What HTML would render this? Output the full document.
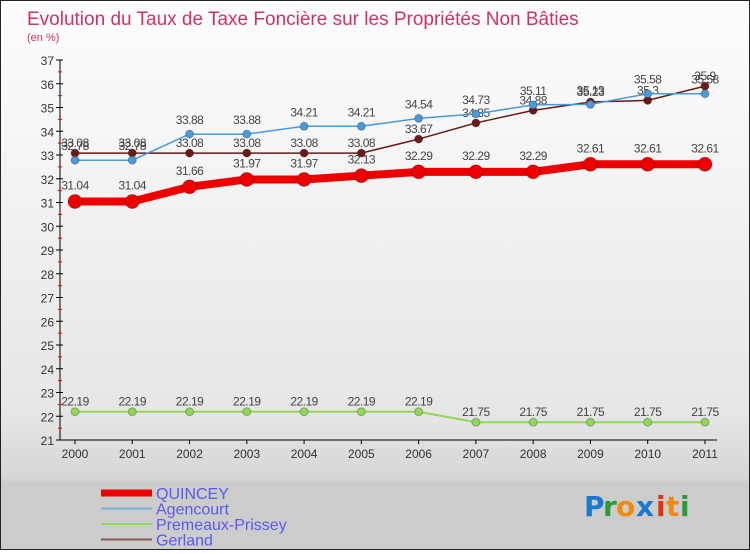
<!DOCTYPE html>
<html><head><meta charset="utf-8"><style>
body{margin:0;width:750px;height:550px;overflow:hidden;font-family:"Liberation Sans",sans-serif}
#wrap{position:relative;width:748px;height:548px;border:1px solid #222;background:linear-gradient(#fdfdfd,#e6e6e6 75%,#d6d6d6 87%,#cccccc 88%,#cccccc)}
</style></head><body>
<div id="wrap">
<svg id="c" width="748" height="548"></svg>
</div>
<script>
const years=[2000,2001,2002,2003,2004,2005,2006,2007,2008,2009,2010,2011];
const quincey=[31.04,31.04,31.66,31.97,31.97,32.13,32.29,32.29,32.29,32.61,32.61,32.61];
const agencourt=[32.78,32.78,33.88,33.88,34.21,34.21,34.54,34.73,35.11,35.13,35.58,35.58];
const premeaux=[22.19,22.19,22.19,22.19,22.19,22.19,22.19,21.75,21.75,21.75,21.75,21.75];
const gerland=[33.08,33.08,33.08,33.08,33.08,33.08,33.67,34.35,34.88,35.23,35.3,35.9];
const yTicks=[21,22,23,24,25,26,27,28,29,30,31,32,33,34,35,36,37];
const NS="http://www.w3.org/2000/svg";
const svg=document.getElementById('c');
function X(i){return 74+i*57.27;}
function Y(v){return 59+(37-v)*23.75;}
function el(t,a,p){const e=document.createElementNS(NS,t);for(const k in a)e.setAttribute(k,a[k]);(p||svg).appendChild(e);return e;}
function txt(x,y,s,a,p){const t=el('text',Object.assign({x:x,y:y},a||{}),p);t.textContent=s;return t;}
let t=txt(26,24,'Evolution du Taux de Taxe Foncière sur les Propriétés Non Bâties',{fill:'#d0306a','font-size':19});


t=txt(26,40,'(en %)',{fill:'#d0306a','font-size':11});


let ax=el('line',{x1:59,y1:Y(37),x2:59,y2:Y(21),stroke:'#000'});


ax=el('line',{x1:59,y1:Y(21),x2:X(11)+12,y2:Y(21),stroke:'#000'});


yTicks.forEach(v=>{
 el('line',{x1:55,y1:Y(v),x2:62,y2:Y(v),stroke:'#000'});
 if(v<37)el('line',{x1:57,y1:Y(v+0.5),x2:61,y2:Y(v+0.5),stroke:'#e00'});
 const l=txt(53,Y(v)+5,String(v),{'text-anchor':'end','font-size':12,fill:'#333'});
 
 
});
years.forEach((y,i)=>{
 el('line',{x1:X(i),y1:Y(21),x2:X(i),y2:Y(21)+4,stroke:'#000'});
 const l=txt(X(i),Y(21)+18,String(y),{'text-anchor':'middle','font-size':12,fill:'#333'});
 
 
});
function series(name,data,color,w,r,labOff){
 const g=el('g',{});
 
 
 el('polyline',{points:data.map((v,i)=>X(i)+','+Y(v)).join(' '),fill:'none',stroke:color,'stroke-width':w,'stroke-linejoin':'round'},g);
 data.forEach((v,i)=>{
  const c=el('circle',{cx:X(i),cy:Y(v),r:r,fill:color,stroke:'rgba(0,0,0,0.25)'},g);
  
  
  txt(X(i),Y(v)+labOff,String(v),{'text-anchor':'middle','font-size':12,fill:'#444','letter-spacing':'-0.5'},g);
 });
}
series('premeaux-prissey',premeaux,'#8fd65a',2,4,-6);
series('gerland',gerland,'#6b1a1a',1.5,4,-6);
series('agencourt',agencourt,'#4a9ad8',1.5,4,-10);
series('quincey',quincey,'#ee0000',8,7,-12);
const leg=[['QUINCEY','#ee0000',7],['Agencourt','#7aaed0',2],['Premeaux-Prissey','#8fd65a',2],['Gerland','#8a5a5a',2]];
leg.forEach((l,i)=>{
 const g=el('g',{});
 
 
 const y=492+i*15.5;
 el('line',{x1:100,y1:y,x2:151,y2:y,stroke:l[1],'stroke-width':l[2]},g);
 txt(155,y+6,l[0],{'font-size':16,fill:'#5a5aee'},g);
});
const lg=el('g',{'font-size':28,'font-family':'DejaVu Sans, sans-serif','font-weight':'bold'});


[['P','#1a78d0'],['r','#2a9a3a'],['o','#f08a10'],['x','#1a78d0'],['i','#e03010'],['t','#f08a10'],['i','#2a9a3a']].forEach((c,i)=>{
 txt(583+[0,19,32,52,72,82,96][i],515,c[0],{fill:c[1]},lg);
});
</script>
</body></html>
